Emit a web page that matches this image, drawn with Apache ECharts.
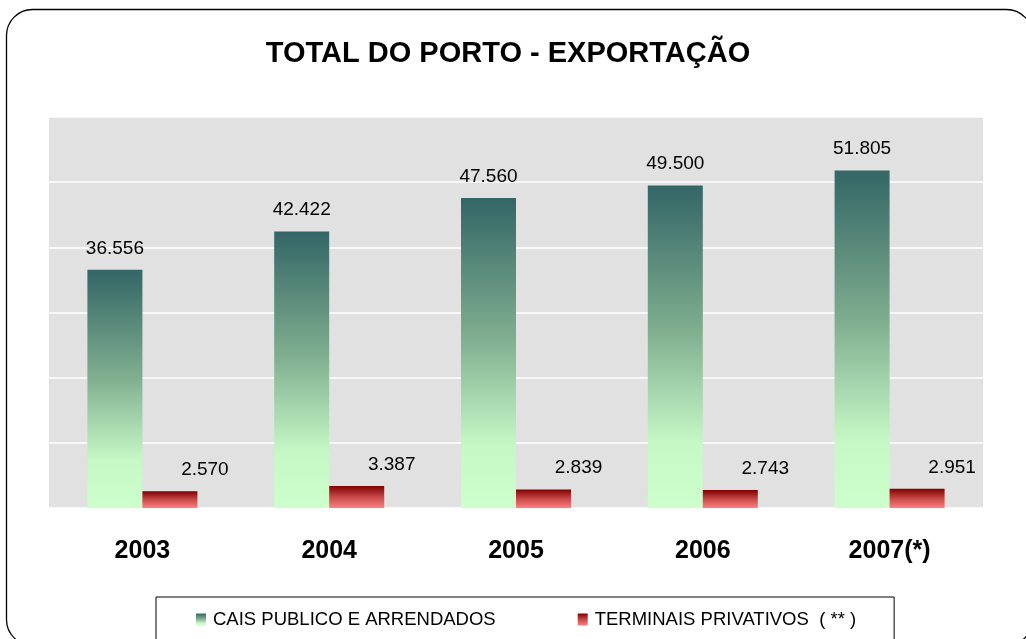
<!DOCTYPE html>
<html>
<head>
<meta charset="utf-8">
<script src="https://cdn.jsdelivr.net/npm/echarts@6/dist/echarts.min.js"></script>
<style>
  html, body { margin: 0; padding: 0; background: #fff; }
  #chart { width: 1026px; height: 639px; }
</style>
</head>
<body>
<div id="chart"></div>
<script>
const years = ['2003', '2004', '2005', '2006', '2007(*)']
const caisPublico = [36556, 42422, 47560, 49500, 51805]
const terminaisPrivativos = [2570, 3387, 2839, 2743, 2951]
const seriesNames = ['CAIS PUBLICO E ARRENDADOS', 'TERMINAIS PRIVATIVOS  ( ** )']

const font = '"Liberation Sans", Arial, sans-serif'

// 36556 -> "36.556"
const fmt = (v) => String(v).replace(/\B(?=(\d{3})+(?!\d))/g, '.')

const greenFill = new echarts.graphic.LinearGradient(0, 0, 0, 1, [
  { offset: 0, color: '#336666' },
  { offset: 0.45, color: '#7fae8f' },
  { offset: 0.8, color: '#c6f8c6' },
  { offset: 1, color: '#ccffcc' }
])
const redFill = new echarts.graphic.LinearGradient(0, 0, 0, 1, [
  { offset: 0, color: '#800000' },
  { offset: 0.5, color: '#c84848' },
  { offset: 1, color: '#ff8080' }
])

const chart = echarts.init(document.getElementById('chart'))

const option = {
  backgroundColor: '#fff',
  textStyle: { fontFamily: font },
  animation: false,
  title: {
    text: 'TOTAL DO PORTO - EXPORTAÇÃO',
    left: 503,
    top: 34,
    textAlign: 'center',
    textStyle: { fontSize: 29, fontWeight: 'bold', color: '#000', fontFamily: font }
  },
  graphic: [
    {
      type: 'rect',
      shape: { x: 6.5, y: 9.5, width: 1026, height: 636, r: 26 },
      style: { fill: 'none', stroke: '#000', lineWidth: 1.3 },
      z: 100
    }
  ],
  legend: {
    data: seriesNames,
    left: 156,
    top: 597,
    orient: 'horizontal',
    icon: 'rect',
    itemWidth: 10,
    itemHeight: 12,
    itemGap: 82,
    padding: [13, 38, 30, 40],
    borderColor: '#000',
    borderWidth: 1,
    textStyle: { fontSize: 18.5, color: '#000', fontFamily: font, padding: [0, 0, 0, 2] }
  },
  grid: {
    left: 49,
    right: 43,
    top: 117,
    bottom: 131,
    show: true,
    backgroundColor: '#e1e1e1',
    borderWidth: 0
  },
  xAxis: {
    type: 'category',
    data: years,
    axisLine: { show: false },
    axisTick: { show: false },
    axisLabel: {
      margin: 31,
      fontSize: 25,
      fontWeight: 'bold',
      color: '#000',
      fontFamily: font
    }
  },
  yAxis: {
    type: 'value',
    min: 0,
    max: 60000,
    interval: 10000,
    axisLabel: { show: false },
    axisLine: { show: false },
    axisTick: { show: false },
    splitLine: { lineStyle: { color: '#ffffff', width: 1.5 } }
  },
  series: [
    {
      name: seriesNames[0],
      type: 'bar',
      data: caisPublico,
      barWidth: 55,
      barGap: '0%',
      itemStyle: { color: greenFill },
      label: {
        show: true,
        position: 'top',
        distance: 12,
        fontSize: 19,
        color: '#000',
        fontFamily: font,
        formatter: (p) => fmt(p.value)
      }
    },
    {
      name: seriesNames[1],
      type: 'bar',
      data: terminaisPrivativos,
      barWidth: 55,
      itemStyle: { color: redFill },
      label: {
        show: true,
        position: 'top',
        distance: 12,
        offset: [35, 0],
        fontSize: 19,
        color: '#000',
        fontFamily: font,
        formatter: (p) => fmt(p.value)
      }
    }
  ]
}

chart.setOption(option)
</script>
</body>
</html>
